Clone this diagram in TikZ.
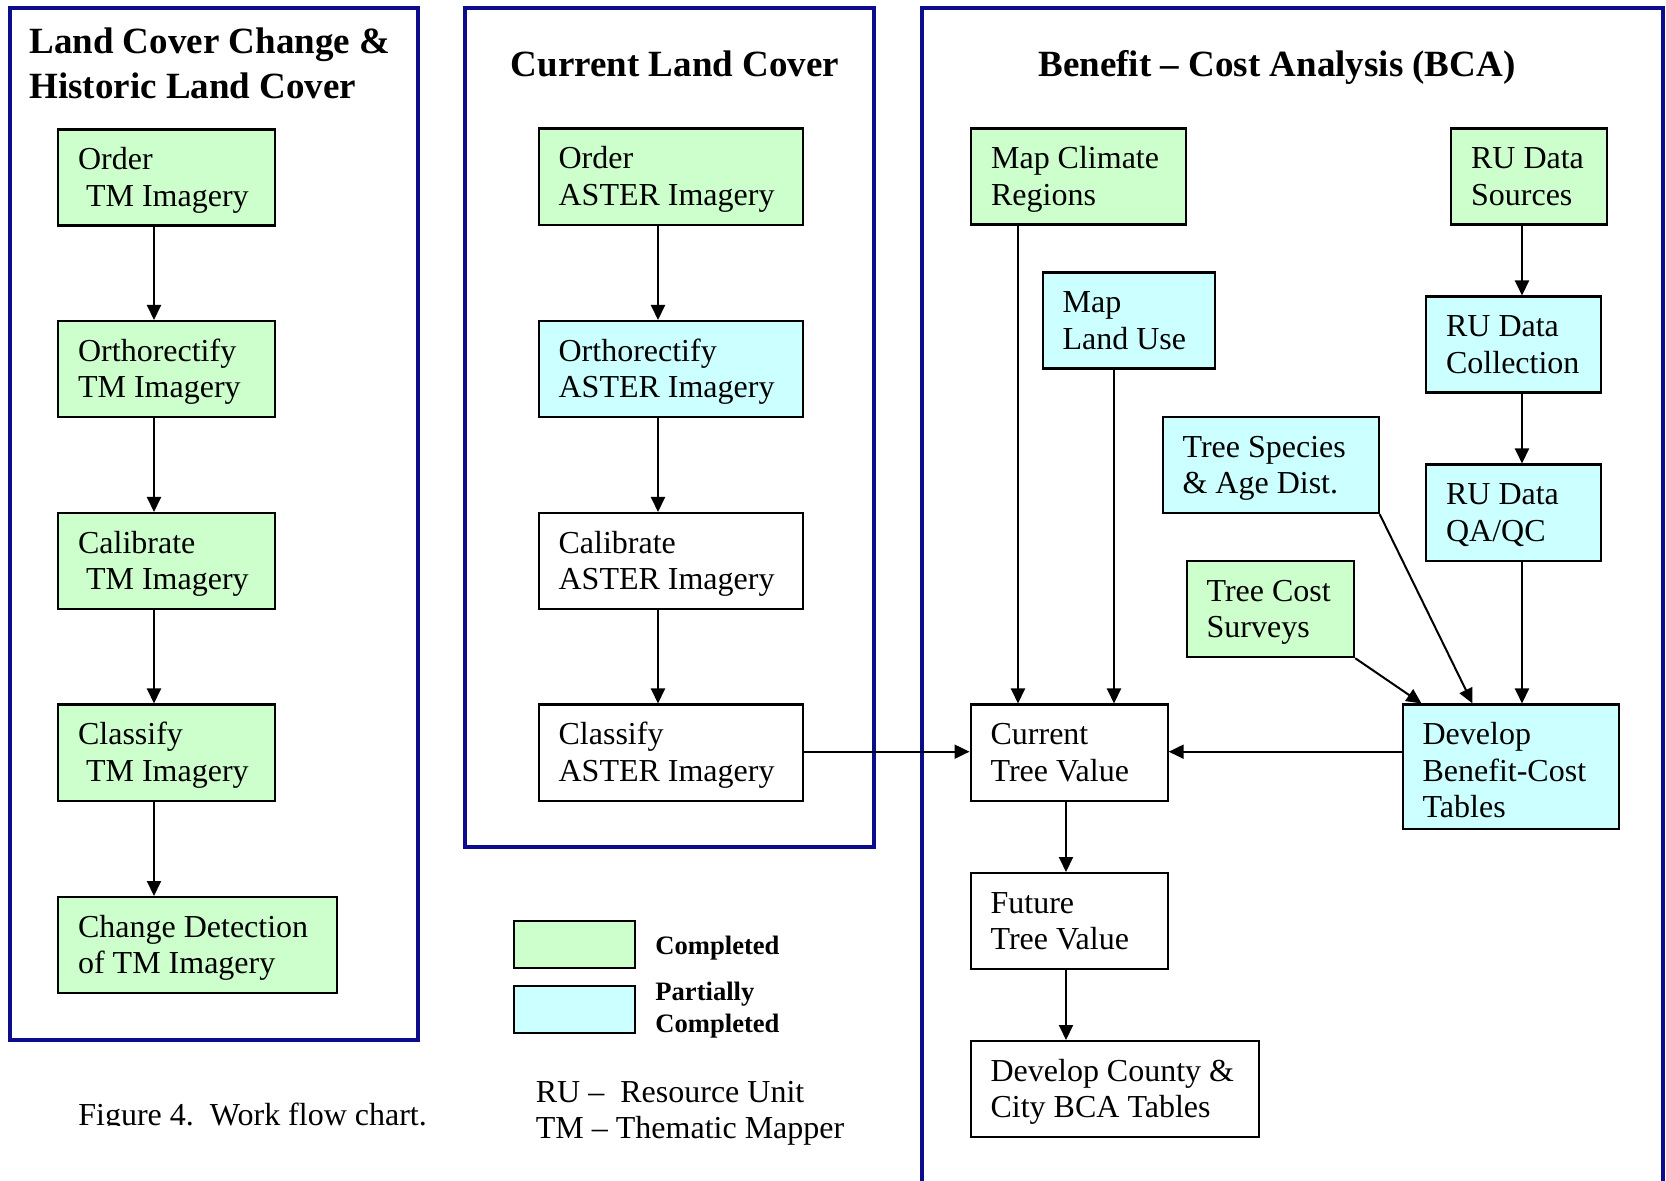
\documentclass[tikz,border=0pt]{standalone}
\usepackage{fontspec}
\setmainfont{Liberation Serif}
\usetikzlibrary{arrows.meta}
\definecolor{navy}{RGB}{12,12,140}
\definecolor{grn}{RGB}{204,255,204}
\definecolor{cyn}{RGB}{204,255,255}
\newcommand\bxfont{\fontsize{16pt}{18.35pt}\selectfont}
\newcommand\ttlfont{\fontsize{18.5pt}{22.5pt}\selectfont\bfseries}
\newcommand\lgfont{\fontsize{13.3pt}{15.85pt}\selectfont\bfseries}
\begin{document}
\begin{tikzpicture}[x=0.5pt,y=-0.5pt,
  panel/.style={draw=navy,line width=1.65pt},
  bx/.style={draw=black,line width=1.1pt,anchor=north west,inner xsep=0pt,inner ysep=0pt,
    align=left,font=\bxfont,text height=20pt,
    execute at begin node={\leftskip=10pt\spaceskip=0pt\xspaceskip=0pt\relax}},
  sz/.style 2 args={text width=#1*0.5pt,text depth=(#2-40)*0.5pt},
  lg/.style={draw=black,line width=1.1pt,anchor=north west,inner sep=0pt,minimum width=60.5pt,minimum height=23.5pt},
  txt/.style={inner sep=0pt,anchor=north west,align=left,text height=0pt,
    execute at begin node={\spaceskip=0pt\xspaceskip=0pt\relax}},
  arr/.style={-{Triangle[length=7.5pt,width=7pt]},line width=1pt}]
\useasboundingbox (0,0) rectangle (1666,1181);
\fill[white] (0,0) rectangle (1666,1181);

% panels
\draw[panel] (10,8) rectangle (418,1040);
\draw[panel] (465,8) rectangle (874,847);
\draw[panel] (922,1181) -- (922,8) -- (1663,8) -- (1663,1181);

% titles
\node[txt,font=\ttlfont,text width=390pt] (t1) at (29,53.3) {Land Cover Change \&\\Historic Land Cover};
\node[font=\ttlfont,anchor=base,inner sep=0pt] (t2) at (675,77) {Current Land Cover};
\node[font=\ttlfont,anchor=base,inner sep=0pt] (t3) at (1277,77) {Benefit – Cost Analysis (BCA)};

% left column
\node[bx,fill=grn,sz={217}{96}] (o1) at (57,128.5) {Order\\\hspace*{4pt}TM Imagery};
\node[bx,fill=grn,sz={217}{96}] (o2) at (57,320) {Orthorectify\\TM Imagery};
\node[bx,fill=grn,sz={217}{96}] (o3) at (57,512) {Calibrate\\\hspace*{4pt}TM Imagery};
\node[bx,fill=grn,sz={217}{96.5}] (o4) at (57,703.5) {Classify\\\hspace*{4pt}TM Imagery};
\node[bx,fill=grn,sz={279}{96}] (o5) at (57,896) {Change Detection\\of TM Imagery};

% middle column
\node[bx,fill=grn,sz={264}{96.5}] (a1) at (537.5,127.5) {Order\\ASTER Imagery};
\node[bx,fill=cyn,sz={264}{96}] (a2) at (537.5,320) {Orthorectify\\ASTER Imagery};
\node[bx,fill=white,sz={264}{96}] (a3) at (537.5,512) {Calibrate\\ASTER Imagery};
\node[bx,fill=white,sz={264}{96.5}] (a4) at (537.5,703.5) {Classify\\ASTER Imagery};

% right panel
\node[bx,fill=grn,sz={215}{96}] (mc) at (970,127.5) {Map Climate\\Regions};
\node[bx,fill=grn,sz={156}{96}] (rs) at (1450,127.5) {RU Data\\Sources};
\node[bx,fill=cyn,sz={172}{96}] (lu) at (1041.5,271.5) {Map\\Land Use};
\node[bx,fill=cyn,sz={174.5}{96}] (rc) at (1425,295.5) {RU Data\\Collection};
\node[bx,fill=cyn,sz={216}{96}] (ts) at (1161.5,416) {Tree Species\\\& Age Dist.};
\node[bx,fill=cyn,sz={174.5}{96.5}] (qa) at (1425,463.5) {RU Data\\QA/QC};
\node[bx,fill=grn,sz={167.5}{96}] (tc) at (1185.5,560) {Tree Cost\\Surveys};
\node[bx,fill=white,sz={197}{96.5}] (cv) at (969.5,703.5) {Current\\Tree Value};
\node[bx,fill=cyn,sz={216.5}{124}] (bc) at (1401.5,703.5) {Develop\\Benefit-Cost\\Tables};
\node[bx,fill=white,sz={197.5}{96}] (fv) at (969.5,872) {Future\\Tree Value};
\node[bx,fill=white,sz={288.5}{96}] (ct) at (969.5,1040) {Develop County \&\\City BCA Tables};

% legend
\node[lg,fill=grn] (lg1) at (513,920) {};
\node[lg,fill=cyn] (lg2) at (513,985) {};
\node[font=\lgfont,anchor=base west,inner sep=0pt] (lt1) at (655,954) {Completed};
\node[txt,font=\lgfont,text width=80pt] (lt2) at (655,1000) {Partially\\Completed};
\node[txt,font=\bxfont,text width=200pt] (abbr) at (535.5,1101.7) {RU –~~Resource Unit\\TM – Thematic Mapper};
\begin{scope}
\clip (0,0) rectangle (460,1125.8);
\node[font=\bxfont,anchor=base west,inner sep=0pt] (cap) at (78,1125) {Figure 4.~~Work flow chart.};
\end{scope}

% connector coordinates
\coordinate (xl) at (154,0);
\coordinate (xm) at (658,0);
\coordinate (xmc) at (1018,0);
\coordinate (xlu) at (1114,0);
\coordinate (xru) at (1522,0);
\coordinate (xcv) at (1066,0);
\coordinate (xts) at (1472.5,0);
\coordinate (xtc) at (1421.5,0);
\coordinate (yh) at (0,751.7);

% connectors
\draw[arr] (o1.south -| xl) -- (o2.north -| xl);
\draw[arr] (o2.south -| xl) -- (o3.north -| xl);
\draw[arr] (o3.south -| xl) -- (o4.north -| xl);
\draw[arr] (o4.south -| xl) -- (o5.north -| xl);
\draw[arr] (a1.south -| xm) -- (a2.north -| xm);
\draw[arr] (a2.south -| xm) -- (a3.north -| xm);
\draw[arr] (a3.south -| xm) -- (a4.north -| xm);
\draw[arr] (a4.east |- yh) -- (cv.west |- yh);
\draw[arr] (mc.south -| xmc) -- (cv.north -| xmc);
\draw[arr] (lu.south -| xlu) -- (cv.north -| xlu);
\draw[arr] (rs.south -| xru) -- (rc.north -| xru);
\draw[arr] (rc.south -| xru) -- (qa.north -| xru);
\draw[arr] (qa.south -| xru) -- (bc.north -| xru);
\draw[arr] (ts.south east) -- (bc.north -| xts);
\draw[arr] (tc.south east) -- (bc.north -| xtc);
\draw[arr] (bc.west |- yh) -- (cv.east |- yh);
\draw[arr] (cv.south -| xcv) -- (fv.north -| xcv);
\draw[arr] (fv.south -| xcv) -- (ct.north -| xcv);
\end{tikzpicture}
\end{document}
